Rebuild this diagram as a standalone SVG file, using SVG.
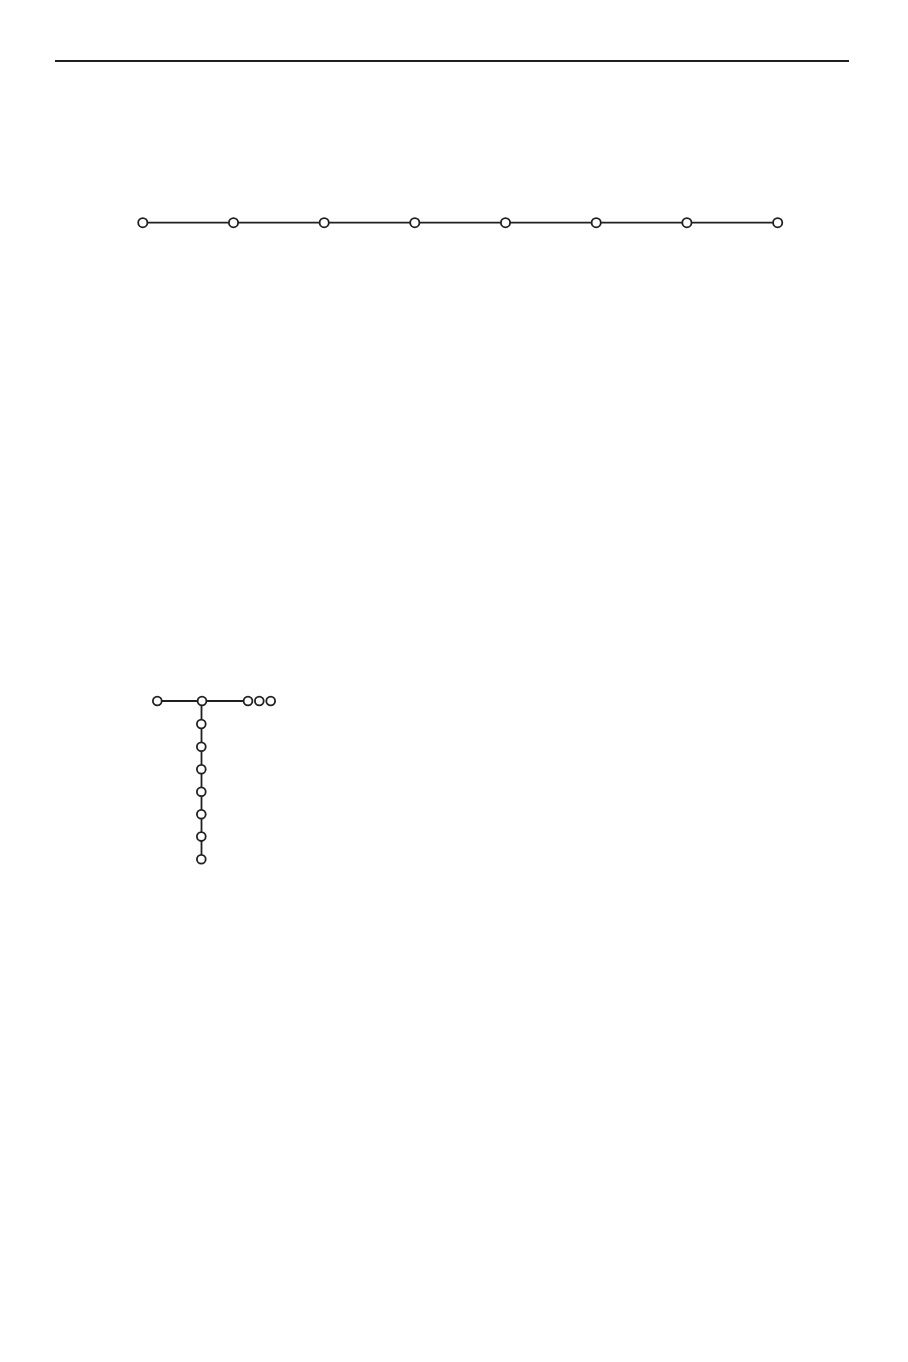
<svg xmlns="http://www.w3.org/2000/svg" width="908" height="1362" viewBox="0 0 908 1362">
<style>
.ln{stroke:#231f20;stroke-width:1.8;fill:none}
.nd{fill:#fff;stroke:#231f20;stroke-width:1.8}
</style>
<rect width="908" height="1362" fill="#fff"/>
<line x1="55" y1="61" x2="849" y2="61" stroke="#231f20" stroke-width="2"/>
<g id="connectors">
<line class="ln" x1="143" y1="222.7" x2="778" y2="222.7"/>
<line class="ln" x1="157.3" y1="701" x2="248" y2="701"/>
<line class="ln" x1="201.5" y1="701" x2="201.5" y2="859"/>
</g>
<g id="n1"><circle class="nd" cx="142.8" cy="222.7" r="4.6"/></g>
<g id="n2"><circle class="nd" cx="233.5" cy="222.7" r="4.6"/></g>
<g id="n3"><circle class="nd" cx="324.2" cy="222.7" r="4.6"/></g>
<g id="n4"><circle class="nd" cx="414.8" cy="222.7" r="4.6"/></g>
<g id="n5"><circle class="nd" cx="505.5" cy="222.7" r="4.6"/></g>
<g id="n6"><circle class="nd" cx="596.2" cy="222.7" r="4.6"/></g>
<g id="n7"><circle class="nd" cx="686.9" cy="222.7" r="4.6"/></g>
<g id="n8"><circle class="nd" cx="777.7" cy="222.7" r="4.6"/></g>
<g id="t1"><circle class="nd" cx="157.3" cy="701" r="4.4"/></g>
<g id="t2"><circle class="nd" cx="202" cy="701" r="4.4"/></g>
<g id="t3"><circle class="nd" cx="248" cy="701" r="4.4"/></g>
<g id="t4"><circle class="nd" cx="259.3" cy="701" r="4.4"/></g>
<g id="t5"><circle class="nd" cx="270.7" cy="701" r="4.4"/></g>
<g id="v1"><circle class="nd" cx="201.3" cy="724" r="4.4"/></g>
<g id="v2"><circle class="nd" cx="201.3" cy="746.8" r="4.4"/></g>
<g id="v3"><circle class="nd" cx="201.3" cy="769.2" r="4.4"/></g>
<g id="v4"><circle class="nd" cx="201.3" cy="791.7" r="4.4"/></g>
<g id="v5"><circle class="nd" cx="201.3" cy="814.2" r="4.4"/></g>
<g id="v6"><circle class="nd" cx="201.3" cy="836.6" r="4.4"/></g>
<g id="v7"><circle class="nd" cx="201.3" cy="859.2" r="4.4"/></g>
</svg>
